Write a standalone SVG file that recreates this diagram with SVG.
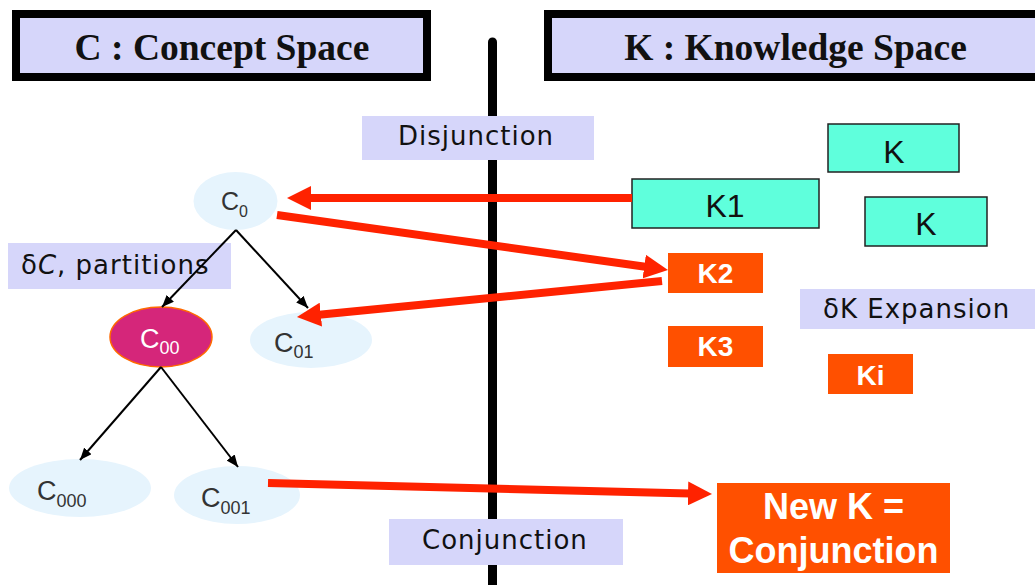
<svg xmlns="http://www.w3.org/2000/svg" width="1035" height="585" viewBox="0 0 1035 585">
<defs>
<style>
.hdr{fill:#d6d6fa;stroke:#000;stroke-width:8}
.htxt{font-family:"Liberation Serif",serif;font-weight:bold;font-size:37.5px;fill:#111;text-anchor:middle}
.lbl{fill:#d6d6fa}
.ltxt{font-family:"DejaVu Sans",sans-serif;font-size:26px;fill:#111;letter-spacing:1px}
.cnode{fill:#e6f4fd}
.ctxt{font-family:"Liberation Sans",Arial,sans-serif;font-size:27px;fill:#333}
.sub{font-size:18px}
.kbox{fill:#5fffdc;stroke:#222;stroke-width:1.5}
.ktxt{font-family:"Liberation Sans",Arial,sans-serif;font-size:32px;fill:#111;text-anchor:middle}
.obox{fill:#ff5000}
.otxt{font-family:"Liberation Sans",Arial,sans-serif;font-weight:bold;font-size:28px;fill:#fff;text-anchor:middle}
.big{font-size:36px}
.red{stroke:#ff2200;stroke-width:8;fill:none;marker-end:url(#rhead)}
.blk{stroke:#000;stroke-width:2;fill:none;marker-end:url(#bhead)}
</style>
<marker id="rhead" viewBox="0 0 24 24" markerWidth="24" markerHeight="24" markerUnits="userSpaceOnUse" refX="12" refY="12" orient="auto">
<path d="M0,0 L24,12 L0,24 z" fill="#ff2200"/>
</marker>
<marker id="bhead" viewBox="0 0 12 10" markerWidth="12" markerHeight="10" markerUnits="userSpaceOnUse" refX="12" refY="5" orient="auto">
<path d="M0,0 L12,5 L0,10 z" fill="#000"/>
</marker>
</defs>
<rect width="1035" height="585" fill="#fff"/>

<line id="divider" x1="492.5" y1="42" x2="492.5" y2="590" stroke="#000" stroke-width="9" stroke-linecap="round"/>

<g id="header-c">
<rect class="hdr" x="16" y="14" width="411" height="63"/>
<text class="htxt" x="222" y="60">C : Concept Space</text>
</g>
<g id="header-k">
<rect class="hdr" x="548" y="14" width="500" height="63"/>
<text class="htxt" x="795.5" y="60">K : Knowledge Space</text>
</g>

<g id="label-disjunction">
<rect class="lbl" x="362" y="116" width="232" height="44"/>
<text class="ltxt" x="398" y="145">Disjunction</text>
</g>
<g id="label-partitions">
<rect class="lbl" x="8" y="243" width="223" height="46"/>
<text class="ltxt" x="21" y="274">δ<tspan font-style="italic">C</tspan>, partitions</text>
</g>
<g id="label-expansion">
<rect class="lbl" x="800" y="289" width="235" height="40"/>
<text class="ltxt" x="823" y="318">δK Expansion</text>
</g>
<g id="label-conjunction">
<rect class="lbl" x="389" y="519" width="234" height="46"/>
<text class="ltxt" x="422" y="549">Conjunction</text>
</g>

<g id="node-c0">
<ellipse class="cnode" cx="235.5" cy="201" rx="42" ry="29"/>
<text class="ctxt" x="221" y="210" style="font-size:25px">C<tspan style="font-size:16px" dy="7">0</tspan></text>
</g>
<g id="node-c00">
<ellipse cx="161" cy="337" rx="51" ry="30" fill="#d5267a" stroke="#ff6a00" stroke-width="1.5"/>
<text class="ctxt" x="140" y="348" style="fill:#fff">C<tspan class="sub" dy="6">00</tspan></text>
</g>
<g id="node-c01">
<ellipse class="cnode" cx="311" cy="340" rx="61" ry="28"/>
<text class="ctxt" x="274" y="352">C<tspan class="sub" dy="6">01</tspan></text>
</g>
<g id="node-c000">
<ellipse class="cnode" cx="80" cy="488" rx="71" ry="29"/>
<text class="ctxt" x="37" y="500">C<tspan class="sub" dy="7">000</tspan></text>
</g>
<g id="node-c001">
<ellipse class="cnode" cx="237" cy="495" rx="63" ry="29"/>
<text class="ctxt" x="201" y="507">C<tspan class="sub" dy="7">001</tspan></text>
</g>

<g id="node-k-top">
<rect class="kbox" x="828" y="124" width="131" height="48"/>
<text class="ktxt" x="894" y="163">K</text>
</g>
<g id="node-k1">
<rect class="kbox" x="632" y="179" width="187" height="49"/>
<text class="ktxt" x="725" y="217">K1</text>
</g>
<g id="node-k-mid">
<rect class="kbox" x="865" y="197" width="122" height="49"/>
<text class="ktxt" x="926" y="235">K</text>
</g>
<g id="node-k2">
<rect class="obox" x="668" y="253" width="95" height="40"/>
<text class="otxt" x="715.5" y="283">K2</text>
</g>
<g id="node-k3">
<rect class="obox" x="668" y="326" width="95" height="41"/>
<text class="otxt" x="715.5" y="356">K3</text>
</g>
<g id="node-ki">
<rect class="obox" x="828" y="354" width="85" height="40"/>
<text class="otxt" x="870.5" y="385">Ki</text>
</g>
<g id="node-newk">
<rect class="obox" x="717" y="483" width="233" height="90"/>
<text class="otxt big" x="833.5" y="519">New K =</text>
<text class="otxt big" x="833.5" y="563">Conjunction</text>
</g>

<g id="connectors">
<line class="blk" x1="236" y1="230" x2="162" y2="307"/>
<line class="blk" x1="236" y1="230" x2="308" y2="308"/>
<line class="blk" x1="161" y1="367" x2="80" y2="460"/>
<line class="blk" x1="161" y1="367" x2="238" y2="467"/>
<line class="red" x1="632" y1="198" x2="299" y2="198"/>
<line class="red" x1="277" y1="215" x2="656.1" y2="268.3"/>
<line class="red" x1="662" y1="281" x2="308.9" y2="315.8"/>
<line class="red" x1="268" y1="483" x2="700" y2="493.7"/>
</g>
</svg>
